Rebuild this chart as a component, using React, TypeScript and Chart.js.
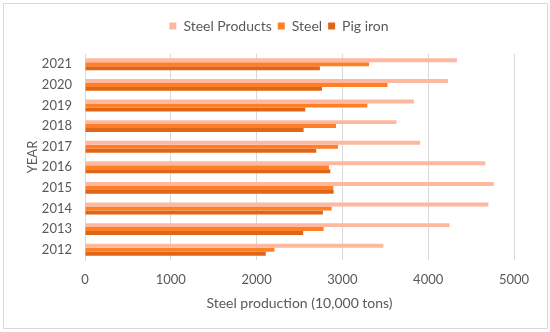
import React, { useEffect, useRef } from "react";
import { Chart, registerables } from "chart.js";

Chart.register(...registerables);

const years = ["2021", "2020", "2019", "2018", "2017", "2016", "2015", "2014", "2013", "2012"];
const steelProducts = [4335, 4230, 3833, 3630, 3906, 4666, 4763, 4701, 4249, 3478];
const steel = [3311, 3525, 3291, 2925, 2949, 2843, 2894, 2875, 2781, 2209];
const pigIron = [2738, 2762, 2567, 2548, 2695, 2859, 2898, 2773, 2543, 2107];
const xTicks = [0, 1000, 2000, 3000, 4000, 5000];

const FONT = "Lato, 'Open Sans', sans-serif";
const TEXT = "#595959";
const GRID = "#d9d9d9";

export default function App() {
  const ref = useRef<HTMLCanvasElement>(null);
  useEffect(() => {
    if (!ref.current) return;
    const legendMargin = {
      id: "legendMargin",
      beforeInit(chart: any) {
        const fit = chart.legend.fit;
        chart.legend.fit = function () {
          fit.bind(chart.legend)();
          this.height = 41;
        };
      },
      afterLayout(chart: any) {
        chart.legend.left += 12;
        chart.legend.right += 12;
      },
    };
    const chart = new Chart(ref.current, {
      type: "bar",
      data: {
        labels: years,
        datasets: [
          { label: "Steel Products", data: steelProducts, backgroundColor: "#FFB8A0" },
          { label: "Steel", data: steel, backgroundColor: "#FF7F27" },
          { label: "Pig iron", data: pigIron, backgroundColor: "#DF6518" },
        ],
      },
      options: {
        indexAxis: "y",
        animation: false,
        responsive: false,
        maintainAspectRatio: false,
        layout: { padding: { left: 20, right: 36, top: 13, bottom: 16 } },
        datasets: { bar: { categoryPercentage: 0.58, barPercentage: 1 } },
        plugins: {
          legend: {
            position: "top",
            labels: {
              font: { family: FONT, size: 14 },
              color: TEXT,
              boxWidth: 7,
              boxHeight: 7,
              padding: 6,
            },
          },
          tooltip: { enabled: false },
        },
        scales: {
          x: {
            min: 0,
            max: 5000,
            afterBuildTicks(scale: any) {
              scale.ticks = xTicks.map((v) => ({ value: v }));
            },
            grid: { color: GRID, drawTicks: false },
            border: { display: false },
            ticks: {
              font: { family: FONT, size: 13 },
              color: TEXT,
              padding: 12,
              callback: (v: any) => String(v),
            },
            title: {
              display: true,
              text: "Steel production (10,000 tons)",
              font: { family: FONT, size: 14 },
              color: TEXT,
              padding: { top: 4, bottom: 4 },
            },
            afterFit(scale: any) {
              scale.height = 56;
            },
          },
          y: {
            grid: { display: false, drawTicks: false },
            border: { display: true, color: GRID },
            ticks: { font: { family: FONT, size: 13 }, color: TEXT, padding: 13 },
            title: {
              display: true,
              text: "YEAR",
              font: { family: FONT, size: 13 },
              color: TEXT,
              padding: { top: 5, bottom: 4 },
            },
            afterFit(scale: any) {
              scale.width = 65;
            },
          },
        },
      },
      plugins: [legendMargin],
    });
    return () => chart.destroy();
  }, []);
  return (
    <div style={{ position: "absolute", left: 0, top: 0, width: 550, height: 332, background: "#fff" }}>
      <canvas ref={ref} width={550} height={332} style={{ position: "absolute", left: 0, top: 0 }} />
      <div
        style={{
          position: "absolute",
          left: 3,
          top: 3,
          width: 543,
          height: 324,
          border: "1px solid #d9d9d9",
          pointerEvents: "none",
        }}
      />
    </div>
  );
}
